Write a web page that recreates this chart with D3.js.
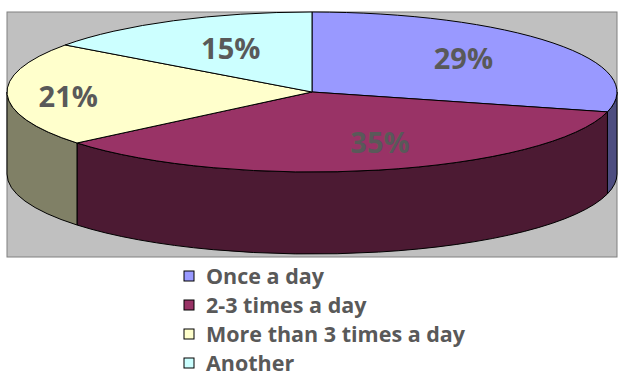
<!DOCTYPE html>
<html>
<head>
<meta charset="utf-8">
<script src="https://cdn.jsdelivr.net/npm/d3@7"></script>
<style>
  body { margin: 0; background: #fff; }
  svg { display: block; font-family: "Open Sans", sans-serif; }
</style>
</head>
<body>
<svg id="chart" width="618" height="376"></svg>
<script>
const categories = ["Once a day", "2-3 times a day", "More than 3 times a day", "Another"];
const shares = [29, 35, 21, 15];
const topColors = ["#9999ff", "#993366", "#ffffcc", "#ccffff"];
const sideColors = ["#4d4d80", "#4c1a33", "#808066", "#668080"];

// plot area and pie geometry
const plot = { x: 7, y: 12, w: 610, h: 245 };
const cx = 312, cy = 92, rx = 305, ry = 80, depth = 82;
// small hand nudges so labels sit where Excel put them
const labelShift = [[-12, 0], [28, 4], [0, 3], [3, 0]];

const svg = d3.select("#chart");

svg.append("rect")
  .attr("x", plot.x)
  .attr("y", plot.y)
  .attr("width", plot.w)
  .attr("height", plot.h)
  .attr("fill", "#c0c0c0")
  .attr("stroke", "#808080")
  .attr("stroke-width", 1);

const pie = d3.pie().sort(null).value((d) => d.value);
const arcs = pie(categories.map((c, i) => ({ name: c, value: shares[i], i })));

const pt = (a, dy = 0) => [cx + rx * Math.sin(a), cy - ry * Math.cos(a) + dy];

// front sides (only the half facing the viewer: PI/2 .. 3PI/2)
const g = svg.append("g");
arcs.forEach((a) => {
  const a0 = Math.max(a.startAngle, Math.PI / 2);
  const a1 = Math.min(a.endAngle, Math.PI * 1.5);
  if (a1 <= a0) return;
  const p0 = pt(a0), p1 = pt(a1), q0 = pt(a0, depth), q1 = pt(a1, depth);
  const d =
    `M${p0[0]},${p0[1]} A${rx},${ry} 0 0 1 ${p1[0]},${p1[1]}` +
    ` L${q1[0]},${q1[1]} A${rx},${ry} 0 0 0 ${q0[0]},${q0[1]} Z`;
  g.append("path")
    .attr("d", d)
    .attr("fill", sideColors[a.data.i])
    .attr("stroke", "#000")
    .attr("stroke-width", 1)
    .attr("stroke-linejoin", "round");
});

// top faces
const arc = d3.arc().innerRadius(0).outerRadius(rx);
svg.append("g")
  .attr("transform", `translate(${cx},${cy}) scale(1,${ry / rx})`)
  .selectAll("path")
  .data(arcs)
  .join("path")
  .attr("d", arc)
  .attr("fill", (d) => topColors[d.data.i])
  .attr("stroke", "#000")
  .attr("stroke-width", 1)
  .attr("vector-effect", "non-scaling-stroke")
  .attr("stroke-linejoin", "round");

// percentage labels
const labelPos = (d) => {
  const m = (d.startAngle + d.endAngle) / 2;
  const r = 0.6 + 0.2 * Math.pow(Math.abs(Math.sin(m)), 4);
  const s = labelShift[d.data.i];
  return [cx + rx * r * Math.sin(m) + s[0], cy - ry * r * Math.cos(m) + s[1]];
};
svg.append("g")
  .selectAll("text")
  .data(arcs)
  .join("text")
  .attr("x", (d) => labelPos(d)[0])
  .attr("y", (d) => labelPos(d)[1])
  .attr("dy", "0.36em")
  .attr("text-anchor", "middle")
  .attr("fill", "#595959")
  .attr("font-weight", "bold")
  .attr("font-size", 29)
  .text((d) => d.data.value + "%");

// legend
const legend = svg.append("g").attr("transform", "translate(184,271)");
const row = legend.selectAll("g")
  .data(categories)
  .join("g")
  .attr("transform", (d, i) => `translate(0,${i * 29})`);
row.append("rect")
  .attr("width", 10)
  .attr("height", 10)
  .attr("fill", (d, i) => topColors[i])
  .attr("stroke", "#000")
  .attr("stroke-width", 1);
row.append("text")
  .attr("x", 22)
  .attr("y", 5)
  .attr("dy", "0.36em")
  .attr("fill", "#595959")
  .attr("font-weight", "bold")
  .attr("font-size", 21.5)
  .text((d) => d);
</script>
</body>
</html>
